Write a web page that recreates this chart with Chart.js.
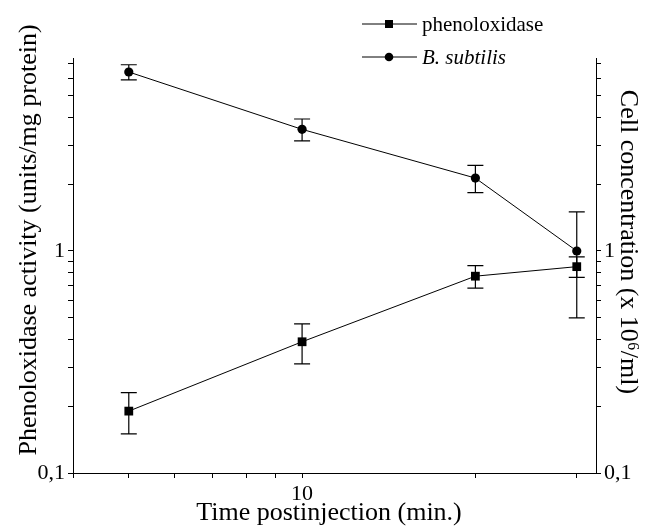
<!DOCTYPE html>
<html lang="en">
<head>
    <meta charset="UTF-8">
    <title>Phenoloxidase activity and B. subtilis concentration</title>
    <style>
        body {
            margin: 0;
            background: #fff;
        }
        #chartCanvas {
            display: block;
        }
    </style>
    <script src="https://cdn.jsdelivr.net/npm/chart.js"></script>
</head>
<body>
    <canvas id="chartCanvas" width="652" height="531"></canvas>

    <script>
        // data
        const times = [5, 10, 20, 30];
        const phenoloxidase = [0.19, 0.39, 0.77, 0.85];
        const phenoloxidaseErr = [0.04, 0.08, 0.09, 0.09];
        const bSubtilis = [6.4, 3.53, 2.13, 1.0];
        const bSubtilisErr = [0.5, 0.4, 0.3, 0.5];

        const seriesNames = ['phenoloxidase', 'B. subtilis'];

        // tick marks and the few labels that are printed
        const xTickValues = [4, 5, 6, 7, 8, 9, 10, 20, 30];
        const xTickLabels = { 10: '10' };
        const yTickValues = [0.1, 0.2, 0.3, 0.4, 0.5, 0.6, 0.7, 0.8, 0.9, 1, 2, 3, 4, 5, 6, 7];
        const yTickLabels = { 0.1: '0,1', 1: '1' };

        const xTitle = 'Time postinjection (min.)';
        const yLeftTitle = 'Phenoloxidase activity (units/mg protein)';
        const yRightTitle = 'Cell concentration (x 10\u2076/ml)';

        const serif = '"Liberation Serif", "Times New Roman", serif';

        function makeAxis(position, min, max, tickValues, tickLabels, size) {
            return {
                type: 'logarithmic',
                position: position,
                min: min,
                max: max,
                afterBuildTicks: function(scale) {
                    scale.ticks = tickValues.map(v => ({ value: v }));
                },
                afterFit: function(scale) {
                    if (position === 'bottom') scale.height = size;
                    else scale.width = size;
                },
                border: { display: true, color: '#000', width: 1 },
                grid: {
                    display: true,
                    drawOnChartArea: false,
                    drawTicks: true,
                    tickLength: 5,
                    tickColor: '#000',
                    color: '#000'
                },
                ticks: {
                    autoSkip: false,
                    maxRotation: 0,
                    padding: 3,
                    color: '#000',
                    font: { family: serif, size: 22 },
                    callback: function(value) {
                        return tickLabels[value] || '';
                    }
                },
                title: { display: false }
            };
        }

        // error bars drawn through the chart's own scales
        const errorBars = {
            id: 'errorBars',
            afterDatasetsDraw(chart) {
                const ctx = chart.ctx;
                const xs = chart.scales.x;
                const ys = chart.scales.y;
                ctx.save();
                ctx.strokeStyle = '#000';
                ctx.lineWidth = 1.2;
                chart.data.datasets.forEach(ds => {
                    ds.data.forEach((p, i) => {
                        const x = xs.getPixelForValue(p.x);
                        const top = ys.getPixelForValue(p.y + ds.errors[i]);
                        const bot = ys.getPixelForValue(p.y - ds.errors[i]);
                        ctx.beginPath();
                        ctx.moveTo(x, top);
                        ctx.lineTo(x, bot);
                        ctx.moveTo(x - 8, top);
                        ctx.lineTo(x + 8, top);
                        ctx.moveTo(x - 8, bot);
                        ctx.lineTo(x + 8, bot);
                        ctx.stroke();
                    });
                });
                ctx.restore();
            }
        };

        // axis titles and the two-row legend
        const labelsPlugin = {
            id: 'labels',
            afterDraw(chart) {
                const ctx = chart.ctx;
                ctx.save();
                ctx.fillStyle = '#000';
                ctx.textBaseline = 'alphabetic';
                ctx.textAlign = 'center';
                ctx.font = '26px ' + serif;
                ctx.fillText(xTitle, 329, 520);

                ctx.save();
                ctx.translate(36, 240);
                ctx.rotate(-Math.PI / 2);
                ctx.fillText(yLeftTitle, 0, 0);
                ctx.restore();

                ctx.save();
                ctx.translate(621, 242);
                ctx.rotate(Math.PI / 2);
                ctx.fillText(yRightTitle, 0, 0);
                ctx.restore();

                // legend
                const rows = [24, 57];
                chart.data.datasets.forEach((ds, i) => {
                    const y = rows[i];
                    ctx.strokeStyle = '#000';
                    ctx.lineWidth = 1;
                    ctx.beginPath();
                    ctx.moveTo(362, y);
                    ctx.lineTo(417, y);
                    ctx.stroke();
                    ctx.beginPath();
                    if (ds.pointStyle === 'rect') {
                        ctx.rect(385, y - 4, 8, 8);
                    } else {
                        ctx.arc(389, y, 4.3, 0, Math.PI * 2);
                    }
                    ctx.fill();
                    ctx.textAlign = 'left';
                    ctx.textBaseline = 'middle';
                    ctx.font = (i === 1 ? 'italic ' : '') + '21px ' + serif;
                    ctx.fillText(seriesNames[i], 422, y + 1);
                });
                ctx.restore();
            }
        };

        const ctx = document.getElementById('chartCanvas').getContext('2d');
        new Chart(ctx, {
            type: 'scatter',
            data: {
                datasets: [
                    {
                        label: seriesNames[0],
                        data: times.map((t, i) => ({ x: t, y: phenoloxidase[i] })),
                        errors: phenoloxidaseErr,
                        showLine: true,
                        borderColor: '#000',
                        backgroundColor: '#000',
                        borderWidth: 1,
                        pointStyle: 'rect',
                        pointRadius: 6.2,
                        pointBorderWidth: 0
                    },
                    {
                        label: seriesNames[1],
                        data: times.map((t, i) => ({ x: t, y: bSubtilis[i] })),
                        errors: bSubtilisErr,
                        showLine: true,
                        borderColor: '#000',
                        backgroundColor: '#000',
                        borderWidth: 1,
                        pointStyle: 'circle',
                        pointRadius: 4.6,
                        pointBorderWidth: 0
                    }
                ]
            },
            plugins: [errorBars, labelsPlugin],
            options: {
                responsive: false,
                animation: false,
                layout: { padding: { top: 58, left: 0, right: 0, bottom: 0 } },
                plugins: {
                    legend: { display: false },
                    tooltip: { enabled: false }
                },
                scales: {
                    x: makeAxis('bottom', 4, 32.4, xTickValues, xTickLabels, 58),
                    y: makeAxis('left', 0.1, 7.4, yTickValues, yTickLabels, 73),
                    y2: makeAxis('right', 0.1, 7.4, yTickValues, yTickLabels, 56)
                }
            }
        });
    </script>
</body>
</html>
